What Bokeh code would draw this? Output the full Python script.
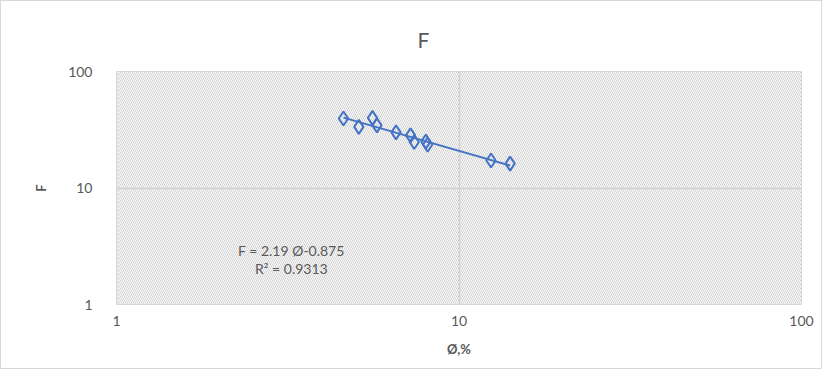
import numpy as np
from bokeh.plotting import figure
from bokeh.models import FixedTicker, BoxAnnotation, Label, Title, BasicTickFormatter
from bokeh.embed import file_html
from bokeh.resources import INLINE

# data
phi = [4.60, 5.10, 5.59, 5.76, 6.55, 7.22, 7.40, 8.00, 8.10, 12.4, 14.1]
F = [39.5, 33.5, 40.0, 34.5, 30.0, 28.3, 24.8, 25.0, 23.5, 17.2, 16.2]
x_ticks = [1, 10, 100]
y_ticks = [1, 10, 100]
title_text = "F"
x_label = "Ø,%"
y_label = "F"
eq_text = "F = 2.19 Ø-0.875"
r2_text = "R² = 0.9313"

GRAY = "#595959"
BLUE = "#4472c4"

p = figure(width=822, height=369, x_axis_type="log", y_axis_type="log",
           x_range=(1, 100), y_range=(1, 100),
           output_backend="svg", toolbar_location=None,
           min_border_left=115, min_border_right=22,
           min_border_top=70, min_border_bottom=66)
p.title = Title(text=title_text, align="left", offset=301, standoff=40,
                text_font="Lato", text_font_size="21px", text_color=GRAY,
                text_font_style="normal")
p.outline_line_color = "#d9d9d9"
p.styles = {"border": "1px solid #d9d9d9"}

hatch = BoxAnnotation(fill_alpha=0, line_alpha=0, hatch_pattern="\\",
                      hatch_color="#cfcfcf", hatch_scale=4, hatch_weight=1,
                      level="underlay")
p.add_layout(hatch)

for ax, ticks in ((p.xaxis[0], x_ticks), (p.yaxis[0], y_ticks)):
    ax.ticker = FixedTicker(ticks=ticks)
    ax.formatter = BasicTickFormatter()
    ax.axis_line_color = None
    ax.major_tick_line_color = None
    ax.minor_tick_line_color = None
    ax.major_label_text_color = GRAY
    ax.major_label_text_font = "Lato"
    ax.major_label_text_font_size = "14px"
    ax.axis_label_text_color = GRAY
    ax.axis_label_text_font = "Lato"
    ax.axis_label_text_font_size = "13px"
    ax.axis_label_text_font_style = "bold"

p.xaxis.axis_label = x_label
p.yaxis.axis_label = y_label
p.xaxis.major_label_standoff = 5
p.xaxis.axis_label_standoff = 12
p.yaxis.major_label_standoff = 18
p.yaxis.axis_label_standoff = 16

p.xgrid.ticker = FixedTicker(ticks=x_ticks)
p.ygrid.ticker = FixedTicker(ticks=y_ticks)
p.grid.grid_line_color = "#d0d0d0"
p.grid.grid_line_width = 1.5

# power trend line fitted in log space
lx, ly = np.log10(phi), np.log10(F)
b, a = np.polyfit(lx, ly, 1)
tx = np.array([min(phi), max(phi)])
ty = 10 ** (a + b * np.log10(tx))
p.line(tx, ty, line_color=BLUE, line_width=2)

p.scatter(phi, F, marker="diamond", size=14, fill_color=None,
          line_color=BLUE, line_width=2)

p.add_layout(Label(x=3.24, y=2.48, text=eq_text, text_align="center",
                   text_font="Lato", text_font_size="14px", text_color=GRAY))
p.add_layout(Label(x=3.24, y=1.71, text=r2_text, text_align="center",
                   text_font="Lato", text_font_size="14px", text_color=GRAY))

open("out.html", "w").write(file_html(p, INLINE))
